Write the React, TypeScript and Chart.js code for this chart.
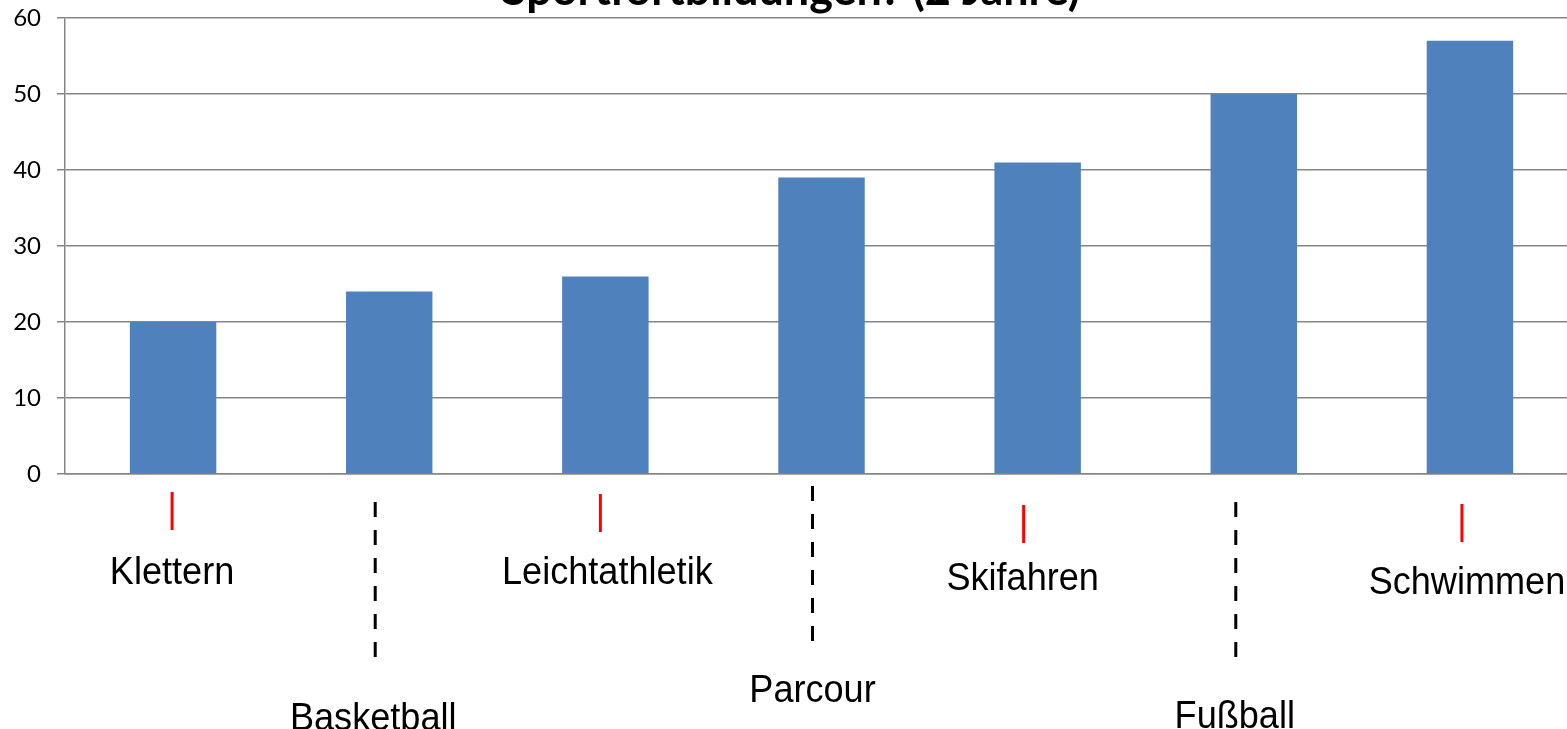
import React, { useEffect, useRef } from "react";
import { Chart, registerables } from "chart.js";

Chart.register(...registerables);

const TITLE = "Sportfortbildungen? (2 Jahre)";
const categories = ["Klettern", "Basketball", "Leichtathletik", "Parcour", "Skifahren", "Fußball", "Schwimmen"];
const values = [20, 24, 26, 39, 41, 50, 57];
const yTicks = [0, 10, 20, 30, 40, 50, 60];

// annotation layout (offsets relative to category centre / chart bottom)
const markerKind = ["solid", "dashed", "solid", "dashed", "solid", "dashed", "solid"];
const lineDx = [-1, -14, -5, -9, -14, -18, -8];
const lineTop = [18, 28, 20, 12, 31, 28, 30];
const lineBottom = [56, 184, 58, 168, 69, 184, 68];
const textDx = [-1, -16, 2, -9, -15, -19, -3];
const textBaseline = [110, 256, 110, 228, 116, 254, 120];

const annotationPlugin = {
  id: "annotations",
  afterDraw(chart: any) {
    const { ctx, chartArea, scales } = chart;
    const xs = scales.x;
    ctx.save();
    ctx.font = "bold 45px Lato";
    ctx.fillStyle = "#000";
    ctx.textAlign = "center";
    ctx.textBaseline = "alphabetic";
    ctx.fillText(TITLE, 791, 5);

    categories.forEach((label, i) => {
      const cx = xs.getPixelForValue(i);
      ctx.save();
      ctx.beginPath();
      ctx.lineWidth = 3;
      if (markerKind[i] === "solid") {
        ctx.strokeStyle = "#ff0000";
        ctx.setLineDash([]);
      } else {
        ctx.strokeStyle = "#000000";
        ctx.setLineDash([15, 13]);
      }
      const lx = cx + lineDx[i];
      ctx.moveTo(lx, chartArea.bottom + lineTop[i]);
      ctx.lineTo(lx, chartArea.bottom + lineBottom[i]);
      ctx.stroke();
      ctx.restore();

      ctx.save();
      ctx.translate(cx + textDx[i], chartArea.bottom + textBaseline[i]);
      ctx.scale(0.95, 1);
      ctx.font = "38px 'Liberation Sans'";
      ctx.fillStyle = "#000";
      ctx.textAlign = "center";
      ctx.textBaseline = "alphabetic";
      ctx.fillText(label, 0, 0);
      ctx.restore();
    });
    ctx.restore();
  },
};

export default function App() {
  const ref = useRef<HTMLCanvasElement>(null);
  useEffect(() => {
    if (!ref.current) return;
    const chart = new Chart(ref.current, {
      type: "bar",
      data: {
        labels: categories,
        datasets: [
          {
            data: values,
            backgroundColor: "#4F81BD",
            borderWidth: 0,
            barPercentage: 0.4,
            categoryPercentage: 1,
          },
        ],
      },
      options: {
        responsive: false,
        animation: false,
        devicePixelRatio: 1,
        layout: { padding: { top: 18, right: 0, bottom: 255, left: 0 } },
        plugins: { legend: { display: false }, title: { display: false }, tooltip: { enabled: false } },
        scales: {
          x: {
            grid: { display: false },
            border: { display: true, color: "#868686", width: 1.5 },
            ticks: { display: false },
            afterFit: (s: any) => {
              s.height = 0;
              s.paddingLeft = 0;
              s.paddingRight = 0;
            },
          },
          y: {
            min: 0,
            max: 60,
            afterBuildTicks: (s: any) => {
              s.ticks = yTicks.map((v) => ({ value: v }));
            },
            grid: { color: "#868686", lineWidth: 1.5, tickLength: 8 },
            border: { display: true, color: "#868686", width: 1.5 },
            ticks: {
              color: "#000",
              padding: 16,
              font: { family: "Lato", size: 24 },
            },
            afterFit: (s: any) => {
              s.width = 65;
              s.paddingTop = 0;
              s.paddingBottom = 0;
            },
          },
        },
      },
      plugins: [annotationPlugin],
    });
    return () => chart.destroy();
  }, []);
  return (
    <div style={{ position: "fixed", left: 0, top: 0, width: 1567, height: 729, overflow: "hidden", background: "#fff" }}>
      <canvas ref={ref} width={1578} height={729} style={{ width: 1578, height: 729, display: "block" }} />
    </div>
  );
}
